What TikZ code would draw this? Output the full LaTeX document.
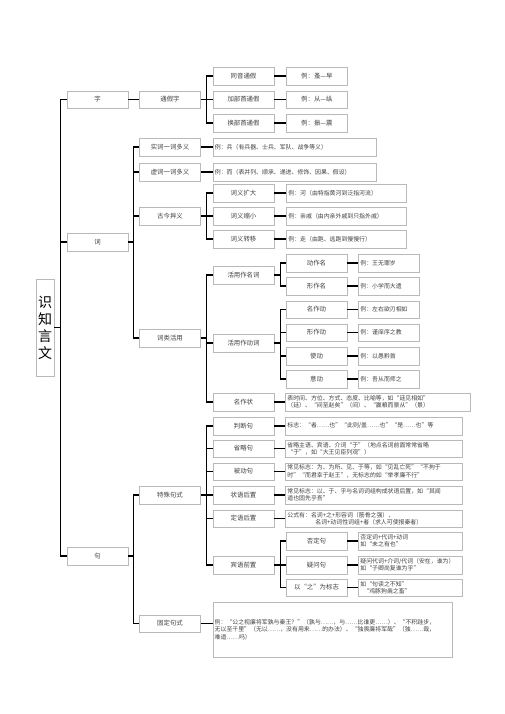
\documentclass[tikz,border=0pt]{standalone}
\usepackage{fontspec}
\newfontfamily\cjk{Noto Sans CJK SC}
\usetikzlibrary{positioning,shadows}
\tikzset{
    item/.style={
        draw=gray!55, fill=white, thin,
        drop shadow={shadow xshift=0.8pt, shadow yshift=-0.8pt, fill=black!30, opacity=0.5},
        minimum width=61pt, minimum height=17.5pt,
        inner xsep=2pt, inner ysep=1pt,
        align=center, text=black!75,
        font=\cjk\fontsize{6.4}{7.6}\selectfont
    },
    eg/.style={ % #1 = 文字宽度
        item, minimum width=0pt, text width=#1, align=left,
        font=\cjk\fontsize{5.9}{7.4}\selectfont
    },
    link/.style={line width=1.2pt, black}
}
\begin{document}
\begin{tikzpicture}[x=1pt, y=-1pt]
\useasboundingbox (0,0) rectangle (505,714);

% ===============================================================
% ==== 根 ====
% ===============================================================
\node[item, minimum width=18pt, minimum height=97pt, inner sep=1pt, text=black,
      font=\cjk\fontsize{14}{17}\selectfont] (root) at (45,327.5) {识\\知\\言\\文};

\node[item] (zi) at (97.5,99.5) {字};
\node[item] (ci) at (97.5,242) {词};
\node[item] (ju) at (97.5,556) {句};

% ===============================================================
% ==== 字 ====
% ===============================================================
\node[item] (tongjia) at (170,99.5) {通假字};

\node[item] (tongyin) at (243.5,76) {同音通假};
\node[item] (jiabu) at (243.5,99.5) {加部首通假};
\node[item] (huanbu) at (243.5,123) {换部首通假};

\node[item, right=12pt of tongyin] (tongyineg) {例：蚤—早};
\node[item, right=12pt of jiabu] (jiabueg) {例：从—纵};
\node[item, right=12pt of huanbu] (huanbueg) {例：振—震};

% ===============================================================
% ==== 词 ====
% ===============================================================
\node[item] (shici) at (170,147) {实词一词多义};
\node[item] (xuci) at (170,172) {虚词一词多义};
\node[item] (gujin) at (170,216) {古今异义};
\node[item] (huoyong) at (170,338) {词类活用};

\node[eg=159.5pt, right=12pt of shici] (shicieg) {例：兵（有兵器、士兵、军队、战争等义）};
\node[eg=159.5pt, right=12pt of xuci] (xucieg) {例：而（表并列、顺承、递进、修饰、因果、假设）};

% 古今异义
\node[item] (kuoda) at (243.5,193) {词义扩大};
\node[item] (suoxiao) at (243.5,216) {词义缩小};
\node[item] (zhuanyi) at (243.5,239) {词义转移};

\node[eg=116pt, right=12pt of kuoda] (kuodaeg) {例：河（由特指黄河到泛指河流）};
\node[eg=116pt, right=12pt of suoxiao] (suoxiaoeg) {例：亲戚（由内亲外戚到只指外戚）};
\node[eg=116pt, right=12pt of zhuanyi] (zhuanyieg) {例：走（由跑、逃跑到慢慢行）};

% 词类活用
\node[item] (zuoming) at (243.5,275) {活用作名词};
\node[item] (zuodong) at (243.5,343) {活用作动词};
\node[item] (zuozhuang) at (243.5,402) {名作状};

\node[item] (dongzuoming) at (316.5,263) {动作名};
\node[item] (xingzuoming) at (316.5,286) {形作名};
\node[item] (mingzuodong) at (316.5,309.5) {名作动};
\node[item] (xingzuodong) at (316.5,332.5) {形作动};
\node[item] (shidong) at (316.5,356) {使动};
\node[item] (yidong) at (316.5,379) {意动};

\node[eg=57pt, right=11pt of dongzuoming] (dongzuomingeg) {例：王无罪岁};
\node[eg=57pt, right=11pt of xingzuoming] (xingzuomingeg) {例：小学而大遗};
\node[eg=57pt, right=11pt of mingzuodong] (mingzuodongeg) {例：左右欲刃相如};
\node[eg=57pt, right=11pt of xingzuodong] (xingzuodongeg) {例：谨庠序之教};
\node[eg=57pt, right=11pt of shidong] (shidongeg) {例：以愚黔首};
\node[eg=57pt, right=11pt of yidong] (yidongeg) {例：吾从而师之};

\node[eg=181pt, right=11pt of zuozhuang] (zuozhuangeg)
    {表时间、方位、方式、态度、比喻等，如“廷见相如”\\
     （廷）、“间至赵矣”（间）、“赢粮而景从”（景）};

% ===============================================================
% ==== 句 ====
% ===============================================================
\node[item] (teshu) at (170,495) {特殊句式};
\node[item] (guding) at (170,623.5) {固定句式};

\node[item] (panduan) at (243.5,426) {判断句};
\node[item] (shenglue) at (243.5,448.5) {省略句};
\node[item] (beidong) at (243.5,471.5) {被动句};
\node[item] (zhuangyu) at (243.5,495) {状语后置};
\node[item] (dingyu) at (243.5,518.5) {定语后置};
\node[item] (binyu) at (243.5,565) {宾语前置};

\node[eg=173pt, right=11pt of panduan] (panduaneg)
    {标志：“者……也”“此则/盖……也”“是……也”等};
\node[eg=173pt, right=11pt of shenglue] (shengllueeg)
    {省略主语、宾语、介词“于”（地点名词前面常常省略\\
     “于”，如“大王见臣列观”）};
\node[eg=173pt, right=11pt of beidong] (beidongeg)
    {常见标志：为、为所、见、于等，如“见乱亡死”“不拘于\\
     时”“而君幸于赵王”，无标志的如“举孝廉不行”};
\node[eg=173pt, right=11pt of zhuangyu] (zhuangyueg)
    {常见标志：以、于、乎与名词词组构成状语后置，如“其闻\\
     道也固先乎吾”};
\node[eg=173pt, right=11pt of dingyu] (dingyueg)
    {公式有：名词+之+形容词（筋骨之强），\\
     \hspace*{28pt}名词+动词性词组+者（求人可使报秦者）};

% 宾语前置
\node[item] (fouding) at (316.5,541) {否定句};
\node[item] (yiwen) at (316.5,565) {疑问句};
\node[item] (yizhi) at (316.5,587.5) {以“之”为标志};

\node[eg=100pt, right=11pt of fouding] (foudingeg) {否定词+代词+动词\\如“未之有也”};
\node[eg=100pt, right=11pt of yiwen] (yiweneg) {疑问代词+介词/代词（安在，谁为）\\如“子卿尚复谁为乎”};
\node[eg=100pt, right=11pt of yizhi] (yizhieg) {如“句读之不知”\\\hspace*{3pt}“鸡豚狗彘之畜”};

% 固定句式
\node[eg=235pt, minimum height=55pt, anchor=north west] (gudingeg) at (212.5,602)
    {例：“公之视廉将军孰与秦王？”（孰与……，与……比谁更……）、“不积跬步，\\
     无以至千里”（无以……，没有用来……的办法）、“独畏廉将军哉”（独……哉，\\
     难道……吗）};

% ===============================================================
% ==== 连线 ====
% ===============================================================
\draw[link] (root.east) -- ++(6,0) |- (zi.west)
            (root.east) -- ++(6,0) |- (ci.west)
            (root.east) -- ++(6,0) |- (ju.west);

% 字
\draw[link] (zi.east) -- (tongjia.west);
\draw[link] (tongjia.east) -- ++(6,0) |- (tongyin.west)
            (tongjia.east) -- (jiabu.west)
            (tongjia.east) -- ++(6,0) |- (huanbu.west);
\draw[link] (tongyin.east) -- (tongyineg.west)
            (jiabu.east) -- (jiabueg.west)
            (huanbu.east) -- (huanbueg.west);

% 词
\draw[link] (ci.east) -- ++(5.5,0) |- (shici.west)
            (ci.east) -- ++(5.5,0) |- (xuci.west)
            (ci.east) -- ++(5.5,0) |- (gujin.west)
            (ci.east) -- ++(5.5,0) |- (huoyong.west);
\draw[link] (shici.east) -- (shicieg.west)
            (xuci.east) -- (xucieg.west);
\draw[link] (gujin.east) -- ++(6,0) |- (kuoda.west)
            (gujin.east) -- (suoxiao.west)
            (gujin.east) -- ++(6,0) |- (zhuanyi.west);
\draw[link] (kuoda.east) -- (kuodaeg.west)
            (suoxiao.east) -- (suoxiaoeg.west)
            (zhuanyi.east) -- (zhuanyieg.west);
\draw[link] (huoyong.east) -- ++(6,0) |- (zuoming.west)
            (huoyong.east) -- ++(6,0) |- (zuodong.west)
            (huoyong.east) -- ++(6,0) |- (zuozhuang.west);
\draw[link] (zuoming.east) -- ++(6.5,0) |- (dongzuoming.west)
            (zuoming.east) -- ++(6.5,0) |- (xingzuoming.west);
\draw[link] (zuodong.east) -- ++(6.5,0) |- (mingzuodong.west)
            (zuodong.east) -- ++(6.5,0) |- (xingzuodong.west)
            (zuodong.east) -- ++(6.5,0) |- (shidong.west)
            (zuodong.east) -- ++(6.5,0) |- (yidong.west);
\draw[link] (dongzuoming.east) -- (dongzuomingeg.west)
            (xingzuoming.east) -- (xingzuomingeg.west)
            (mingzuodong.east) -- (mingzuodongeg.west)
            (xingzuodong.east) -- (xingzuodongeg.west)
            (shidong.east) -- (shidongeg.west)
            (yidong.east) -- (yidongeg.west)
            (zuozhuang.east) -- (zuozhuangeg.west);

% 句
\draw[link] (ju.east) -- ++(5.5,0) |- (teshu.west)
            (ju.east) -- ++(5.5,0) |- (guding.west);
\draw[link] (teshu.east) -- ++(6,0) |- (panduan.west)
            (teshu.east) -- ++(6,0) |- (shenglue.west)
            (teshu.east) -- ++(6,0) |- (beidong.west)
            (teshu.east) -- (zhuangyu.west)
            (teshu.east) -- ++(6,0) |- (dingyu.west)
            (teshu.east) -- ++(6,0) |- (binyu.west);
\draw[link] (panduan.east) -- (panduaneg.west)
            (shenglue.east) -- (shengllueeg.west)
            (beidong.east) -- (beidongeg.west)
            (zhuangyu.east) -- (zhuangyueg.west)
            (dingyu.east) -- (dingyueg.west);
\draw[link] (binyu.east) -- ++(6.5,0) |- (fouding.west)
            (binyu.east) -- (yiwen.west)
            (binyu.east) -- ++(6.5,0) |- (yizhi.west);
\draw[link] (fouding.east) -- (foudingeg.west)
            (yiwen.east) -- (yiweneg.west)
            (yizhi.east) -- (yizhieg.west);
\draw[link] (guding.east) -- (guding.east -| gudingeg.west);

\end{tikzpicture}
\end{document}
